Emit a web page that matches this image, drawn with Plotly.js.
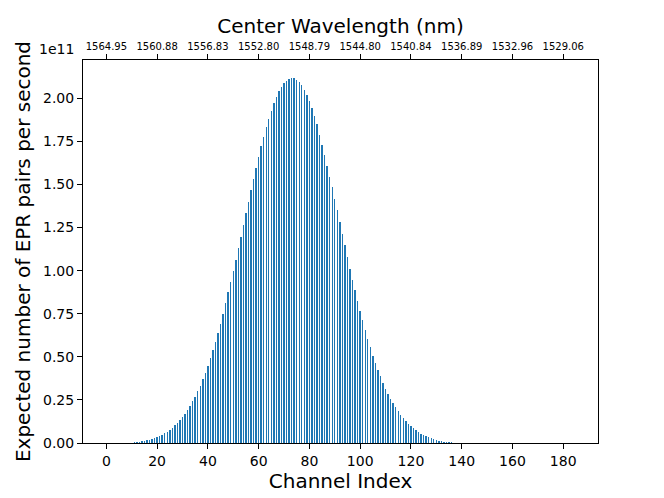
<!DOCTYPE html>
<html>
<head>
<meta charset="utf-8">
<script src="https://cdn.plot.ly/plotly-3.0.1.min.js"></script>
<style>html,body{margin:0;padding:0;background:#fff}#chart{width:664px;height:498px}</style>
</head>
<body>
<div id="chart"></div>
<script>
// Expected EPR pairs per second, in units of 1e11, for channels 0..184
const eprPairs1e11 = [
  0, 0.00001, 0.00002, 0.00005, 0.0001, 0.0002, 0.0003, 0.0006, 0.001, 0.0017,
  0.0025, 0.0035, 0.005, 0.007, 0.009, 0.012, 0.015, 0.019, 0.023, 0.029,
  0.035, 0.041, 0.049, 0.056, 0.066, 0.078, 0.089, 0.103, 0.116, 0.132,
  0.151, 0.171, 0.194, 0.215, 0.242, 0.269, 0.300, 0.333, 0.370, 0.407,
  0.449, 0.494, 0.538, 0.587, 0.639, 0.693, 0.751, 0.810, 0.877, 0.935,
  0.997, 1.061, 1.129, 1.196, 1.264, 1.332, 1.400, 1.467, 1.531, 1.597,
  1.661, 1.723, 1.777, 1.832, 1.882, 1.928, 1.971, 2.008, 2.041, 2.067,
  2.087, 2.102, 2.112, 2.116, 2.116, 2.106, 2.092, 2.075, 2.048, 2.019,
  1.982, 1.944, 1.897, 1.849, 1.785, 1.729, 1.671, 1.609, 1.545, 1.483,
  1.415, 1.350, 1.282, 1.214, 1.148, 1.080, 1.009, 0.947, 0.887, 0.825,
  0.767, 0.711, 0.656, 0.604, 0.556, 0.507, 0.465, 0.424, 0.386, 0.348,
  0.316, 0.285, 0.256, 0.231, 0.206, 0.184, 0.163, 0.143, 0.126, 0.110,
  0.097, 0.085, 0.074, 0.064, 0.055, 0.046, 0.039, 0.033, 0.027, 0.021,
  0.018, 0.014, 0.011, 0.008, 0.006, 0.0045, 0.003, 0.002, 0.0015, 0.001,
  0.0006, 0.0004, 0.0002, 0.0001, 0.00005, 0, 0, 0, 0, 0,
  0, 0, 0, 0, 0, 0, 0, 0, 0, 0,
  0, 0, 0, 0, 0, 0, 0, 0, 0, 0,
  0, 0, 0, 0, 0, 0, 0, 0, 0, 0,
  0, 0, 0, 0, 0
];
const channels = eprPairs1e11.map((_, i) => i);
const channelTicks = [0, 20, 40, 60, 80, 100, 120, 140, 160, 180];
const wavelengthLabels = ['1564.95','1560.88','1556.83','1552.80','1548.79','1544.80','1540.84','1536.89','1532.96','1529.06'];
const yTicks = [0, 0.25, 0.5, 0.75, 1.0, 1.25, 1.5, 1.75, 2.0];

const font = 'DejaVu Sans, sans-serif';
const xr = [-9.2, 193.7];

const traces = [
  {type: 'bar', x: channels, y: eprPairs1e11, width: 0.55,
   marker: {color: '#1f77b4', line: {width: 0}}, hoverinfo: 'x+y', showlegend: false},
  {type: 'scatter', mode: 'lines', x: channels, y: eprPairs1e11, xaxis: 'x2',
   opacity: 0, line: {width: 0}, hoverinfo: 'skip', showlegend: false}
];

const layout = {
  width: 664, height: 498,
  margin: {l: 83.3, r: 66.3, t: 60, b: 55.3},
  paper_bgcolor: '#fff', plot_bgcolor: '#fff',
  font: {family: font, color: '#000'},
  bargap: 0,
  title: {text: 'Center Wavelength (nm)', font: {family: font, size: 20, color: '#000'},
          x: 0.5128, xanchor: 'center', xref: 'container', y: 0.947, yanchor: 'middle', yref: 'container'},
  xaxis: {range: xr, tickvals: channelTicks, ticktext: channelTicks.map(String),
          ticks: 'outside', ticklen: 5, tickwidth: 1, tickcolor: '#000',
          showline: true, linecolor: '#000', linewidth: 1, mirror: true,
          showgrid: false, zeroline: false, tickfont: {size: 14},
          title: {text: 'Channel Index', font: {size: 20}, standoff: 5}},
  xaxis2: {range: xr, overlaying: 'x', side: 'top', anchor: 'y',
           tickvals: channelTicks, ticktext: wavelengthLabels,
           ticks: 'outside', ticklen: 5, tickwidth: 1, tickcolor: '#000',
           showline: false, showgrid: false, zeroline: false, tickfont: {size: 10}},
  yaxis: {range: [0, 2.222], tickvals: yTicks, ticktext: yTicks.map(v => v.toFixed(2)),
          ticks: 'outside', ticklen: 5, tickwidth: 1, tickcolor: '#000',
          showline: true, linecolor: '#000', linewidth: 1, mirror: true,
          showgrid: false, zeroline: false, tickfont: {size: 14},
          title: {text: 'Expected number of EPR pairs per second', font: {size: 20}, standoff: 7}},
  annotations: [{text: '1e11', xref: 'paper', yref: 'paper', x: -0.0128, y: 1.03,
                 xanchor: 'right', yanchor: 'middle', showarrow: false, font: {size: 14}}]
};

Plotly.newPlot('chart', traces, layout, {displayModeBar: false, staticPlot: true});
</script>
</body>
</html>
